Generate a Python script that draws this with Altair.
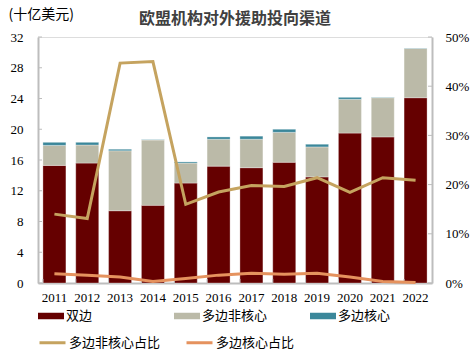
import altair as alt
import pandas as pd

years = ["2011", "2012", "2013", "2014", "2015", "2016", "2017", "2018", "2019", "2020", "2021", "2022"]
bilateral = [15.3, 15.6, 9.4, 10.1, 13.0, 15.2, 15.0, 15.7, 13.8, 19.5, 19.0, 24.1]
noncore = [2.6, 2.35, 7.8, 8.5, 2.6, 3.5, 3.7, 3.9, 3.9, 4.4, 5.1, 6.4]
core = [0.4, 0.35, 0.2, 0.05, 0.15, 0.3, 0.4, 0.4, 0.35, 0.25, 0.05, 0.05]
noncore_share = [0.140, 0.131, 0.447, 0.450, 0.160, 0.185, 0.198, 0.196, 0.214, 0.184, 0.214, 0.209]
core_share = [0.019, 0.016, 0.012, 0.003, 0.009, 0.016, 0.020, 0.018, 0.020, 0.012, 0.003, 0.001]

left_ticks = [0, 4, 8, 12, 16, 20, 24, 28, 32]
right_ticks = [0, 0.1, 0.2, 0.3, 0.4, 0.5]

bar_names = ["双边", "多边非核心", "多边核心"]
bar_colors = ["#650000", "#BBBAA8", "#3B879A"]
line_names = ["多边非核心占比", "多边核心占比"]
line_colors = ["#C5A35F", "#E5925E"]

rows = []
for i, y in enumerate(years):
    for k, (name, vals) in enumerate(zip(bar_names, [bilateral, noncore, core])):
        rows.append({"year": y, "series": name, "value": vals[i], "order": k})
bars_df = pd.DataFrame(rows)

lrows = []
for i, y in enumerate(years):
    lrows.append({"year": y, "series": line_names[0], "share": noncore_share[i]})
    lrows.append({"year": y, "series": line_names[1], "share": core_share[i]})
lines_df = pd.DataFrame(lrows)

W, H = 394, 246
NUM_FONT = "Liberation Serif"
CJK_FONT = "Noto Sans CJK SC"
AXIS_COLOR = "#BDBDBD"

x_scale = alt.Scale(paddingInner=0.3, paddingOuter=0.15)
x_axis = alt.Axis(title=None, labelAngle=0, ticks=False, labelPadding=8,
                  labelFont=NUM_FONT, labelFontSize=13, labelColor="#000000",
                  domainColor=AXIS_COLOR, domainWidth=2)
left_scale = alt.Scale(domain=[0, 32], nice=False)
left_axis = alt.Axis(title="(十亿美元)", titleAngle=0, titleX=-30, titleY=-16,
                     titleAlign="left", titleFont=CJK_FONT, titleFontSize=14,
                     titleFontWeight="normal", titleColor="#000000",
                     values=left_ticks, ticks=False, grid=False, labelPadding=15,
                     labelFont=NUM_FONT, labelFontSize=13, labelColor="#000000",
                     domainColor=AXIS_COLOR, domainWidth=2)
right_scale = alt.Scale(domain=[0, 0.5], nice=False)
right_axis = alt.Axis(orient="right", title=None, format=".0%", values=right_ticks,
                      ticks=False, grid=False, labelPadding=13,
                      labelFont=NUM_FONT, labelFontSize=13, labelColor="#000000",
                      domainColor=AXIS_COLOR, domainWidth=2)

bars = alt.Chart(bars_df).mark_bar(stroke="#FFFFFF", strokeWidth=0.6, strokeOpacity=0.5).encode(
    x=alt.X("year:N", sort=years, scale=x_scale, axis=x_axis),
    y=alt.Y("sum(value):Q", stack="zero", scale=left_scale, axis=left_axis),
    color=alt.Color("series:N", sort=bar_names,
                    scale=alt.Scale(domain=bar_names, range=bar_colors),
                    legend=alt.Legend(title=None, orient="none", legendX=0, legendY=266,
                                      direction="horizontal", columns=3, gridAlign="all",
                                      columnPadding=42,
                                      symbolType="M-1,-0.25H1V0.25H-1Z", symbolSize=676,
                                      symbolStrokeWidth=0, labelOffset=2,
                                      labelFont=CJK_FONT, labelFontSize=13, labelColor="#000000")),
    order=alt.Order("order:Q", sort="ascending"),
)

left_tick_df = pd.DataFrame({"v": left_ticks})
left_tick_rules = alt.Chart(left_tick_df).mark_rule(color=AXIS_COLOR, strokeWidth=1).encode(
    y=alt.Y("v:Q", scale=left_scale, axis=left_axis),
    x=alt.value(0), x2=alt.value(4),
)

x_tick_df = pd.DataFrame({"year": years})
x_tick_rules = alt.Chart(x_tick_df).mark_rule(color=AXIS_COLOR, strokeWidth=1).encode(
    x=alt.X("year:N", sort=years, bandPosition=0, scale=x_scale, axis=x_axis),
    y=alt.value(H), y2=alt.value(H - 4),
)

lines = alt.Chart(lines_df).mark_line(strokeWidth=3).encode(
    x=alt.X("year:N", sort=years, scale=x_scale, axis=x_axis),
    y=alt.Y("share:Q", scale=right_scale, axis=right_axis),
    stroke=alt.Stroke("series:N", sort=line_names,
                      scale=alt.Scale(domain=line_names, range=line_colors),
                      legend=alt.Legend(title=None, orient="none", legendX=0, legendY=291,
                                        direction="horizontal", columns=2, gridAlign="all",
                                        columnPadding=19,
                                        symbolType="M-1,0H1", symbolSize=676,
                                        symbolStrokeWidth=3, labelOffset=2,
                                        labelFont=CJK_FONT, labelFontSize=13, labelColor="#000000")),
)

right_tick_df = pd.DataFrame({"v": right_ticks})
right_tick_rules = alt.Chart(right_tick_df).mark_rule(color=AXIS_COLOR, strokeWidth=1).encode(
    y=alt.Y("v:Q", scale=right_scale, axis=right_axis),
    x=alt.value(W - 4), x2=alt.value(W),
)

left_layer = alt.layer(bars, left_tick_rules, x_tick_rules)
right_layer = alt.layer(lines, right_tick_rules)

chart = alt.layer(left_layer, right_layer).resolve_scale(
    y="independent", color="independent", stroke="independent"
).properties(
    width=W, height=H,
    title=alt.TitleParams("欧盟机构对外援助投向渠道", anchor="middle", font=CJK_FONT,
                          fontSize=16, fontWeight="bold", color="#404040", offset=8, dy=28),
    padding={"left": 38, "top": 37, "right": 40, "bottom": 72},
    autosize=alt.AutoSizeParams(type="none"),
).configure_view(stroke=None).configure(background="#FFFFFF")

chart.save("out.html", embed_options={"renderer": "svg", "actions": False})
